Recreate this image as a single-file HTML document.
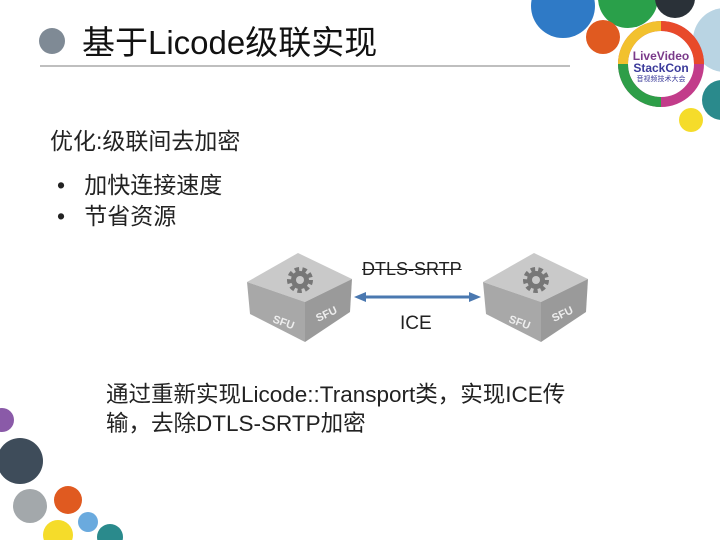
<html><head><style>
body{margin:0;width:720px;height:540px;background:#fff;position:relative;overflow:hidden;font-family:"Liberation Sans","Noto Sans CJK SC",sans-serif;color:#222}
.t{position:absolute;white-space:nowrap}
</style></head><body>
<svg width="720" height="540" style="position:absolute;left:0;top:0">
<circle cx="52" cy="41" r="13" fill="#7f8a95"/>
<line x1="40" y1="66" x2="570" y2="66" stroke="#aaa" stroke-width="1.5"/>
<circle cx="563" cy="6" r="32" fill="#2f7ac6"/>
<circle cx="628" cy="-2" r="30" fill="#2aa04a"/>
<circle cx="675" cy="-2" r="20" fill="#2a3138"/>
<circle cx="725" cy="40" r="32" fill="#b9d4e3"/>
<circle cx="603" cy="37" r="17" fill="#e05a20"/>
<circle cx="661" cy="64" r="38" fill="none" stroke="#c23c8a" stroke-width="10"/>
<path d="M623,64 A38,38 0 0 1 661,26" fill="none" stroke="#f2c12e" stroke-width="10"/>
<path d="M661,26 A38,38 0 0 1 699,64" fill="none" stroke="#e84a2a" stroke-width="10"/>
<path d="M623,64 A38,38 0 0 0 661,102" fill="none" stroke="#2e9e48" stroke-width="10"/>
<circle cx="722" cy="100" r="20" fill="#2a8a8c"/>
<circle cx="691" cy="120" r="12" fill="#f5dc2a"/>
<text x="661" y="60" font-size="12" font-weight="bold" text-anchor="middle" fill="#7a3a8a" font-family="Liberation Sans">LiveVideo</text>
<text x="661" y="72" font-size="12" font-weight="bold" text-anchor="middle" fill="#3a3a9a" font-family="Liberation Sans">StackCon</text>
<text x="661" y="81" font-size="7" text-anchor="middle" fill="#3a3a9a" font-family="Noto Sans CJK SC">音视频技术大会</text>
<circle cx="2" cy="420" r="12" fill="#8a5aa8"/>
<circle cx="20" cy="461" r="23" fill="#3e4c5a"/>
<circle cx="30" cy="506" r="17" fill="#a3a8ab"/>
<circle cx="68" cy="500" r="14" fill="#e05a20"/>
<circle cx="58" cy="535" r="15" fill="#f5dc2a"/>
<circle cx="88" cy="522" r="10" fill="#6aaade"/>
<circle cx="110" cy="537" r="13" fill="#2a8a8c"/>
<g id="sfu">
<polygon points="298,253 352,279 305,302 247,282" fill="#c9c9c9"/>
<polygon points="247,282 305,302 305,342 250,314" fill="#a8a8a8"/>
<polygon points="305,302 352,279 350,312 305,342" fill="#9a9a9a"/>
<circle cx="300" cy="280" r="10" fill="none" stroke="#777" stroke-width="6" stroke-dasharray="4 3"/>
<circle cx="300" cy="280" r="9" fill="#777"/><circle cx="300" cy="280" r="4" fill="#c9c9c9"/>
<text x="272" y="322" font-size="11" font-weight="bold" fill="#eee" transform="rotate(20 272 322)">SFU</text>
<text x="318" y="322" font-size="11" font-weight="bold" fill="#eee" transform="rotate(-25 318 322)">SFU</text>
</g>
<use href="#sfu" x="236"/>
<line x1="362" y1="297" x2="472" y2="297" stroke="#4a78b0" stroke-width="3"/>
<polygon points="354,297 366,292 366,302" fill="#4a78b0"/>
<polygon points="481,297 469,292 469,302" fill="#4a78b0"/>
</svg>
<div class="t" style="left:82px;top:16px;font-size:33px;color:#111">基于Licode级联实现</div>
<div class="t" style="left:50px;top:122px;font-size:23px">优化:级联间去加密</div>
<div class="t" style="left:57px;top:166px;font-size:23px">•&nbsp;&nbsp;&nbsp;加快连接速度</div>
<div class="t" style="left:57px;top:197px;font-size:23px">•&nbsp;&nbsp;&nbsp;节省资源</div>
<div class="t" style="left:362px;top:259px;font-size:18px;text-decoration:line-through">DTLS-SRTP</div>
<div class="t" style="left:400px;top:313px;font-size:19px">ICE</div>
<div class="t" style="left:106px;top:380px;font-size:22.5px;line-height:29px">通过重新实现Licode::Transport类，实现ICE传<br>输，去除DTLS-SRTP加密</div>
</body></html>
